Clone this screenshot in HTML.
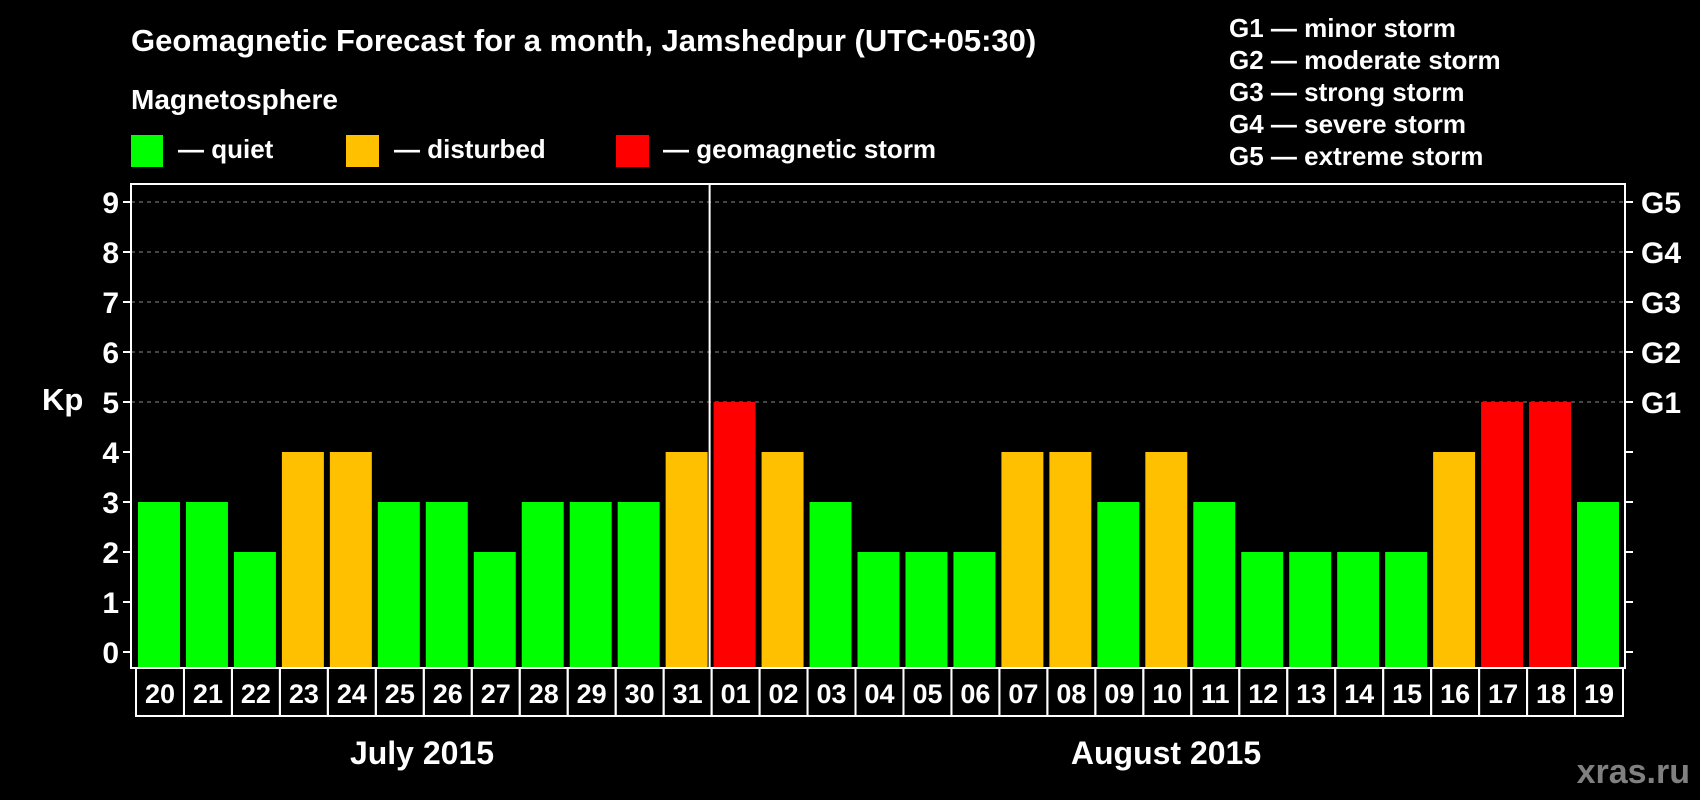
<!DOCTYPE html>
<html><head><meta charset="utf-8"><style>
html,body{margin:0;padding:0;background:#000;}
svg{display:block;font-family:"Liberation Sans",Arial,sans-serif;font-weight:bold;}
</style></head><body>
<svg id="chart" width="1700" height="800" viewBox="0 0 1700 800" xmlns="http://www.w3.org/2000/svg">
<rect width="1700" height="800" fill="#000"/>
<text x="131" y="51" fill="#fff" font-size="31">Geomagnetic Forecast for a month, Jamshedpur (UTC+05:30)</text>
<text x="131" y="109" fill="#fff" font-size="28">Magnetosphere</text>
<g><rect x="131" y="135" width="32" height="32" fill="#00ff00"/><text x="178" y="158" fill="#fff" font-size="26">— quiet</text></g>
<g><rect x="346" y="135" width="33" height="32" fill="#ffc000"/><text x="394" y="158" fill="#fff" font-size="26">— disturbed</text></g>
<g><rect x="616" y="135" width="33" height="32" fill="#ff0000"/><text x="663" y="158" fill="#fff" font-size="26">— geomagnetic storm</text></g>
<g fill="#fff" font-size="26">
<text x="1229" y="37">G1 — minor storm</text>
<text x="1229" y="69">G2 — moderate storm</text>
<text x="1229" y="101">G3 — strong storm</text>
<text x="1229" y="133">G4 — severe storm</text>
<text x="1229" y="165">G5 — extreme storm</text>
</g>
<text x="42" y="410" fill="#fff" font-size="31">Kp</text>
<g id="grid"></g><g id="bars"></g><g id="axes"></g>
<text x="422" y="764" fill="#fff" font-size="32" text-anchor="middle">July 2015</text>
<text x="1166" y="764" fill="#fff" font-size="32" text-anchor="middle">August 2015</text>
<text x="1690" y="783" fill="#808080" font-size="34" text-anchor="end">xras.ru</text>
</svg>
<script>
const days = ["20","21","22","23","24","25","26","27","28","29","30","31","01","02","03","04","05","06","07","08","09","10","11","12","13","14","15","16","17","18","19"];
const kpValues = [3,3,2,4,4,3,3,2,3,3,3,4,5,4,3,2,2,2,4,4,3,4,3,2,2,2,2,4,5,5,3];
const yTicks = [0,1,2,3,4,5,6,7,8,9];
const gLabels = ["","","","","","G1","G2","G3","G4","G5"];
const monthBreakIndex = 12;

const NS="http://www.w3.org/2000/svg";
const plotLeft=131,plotRight=1625,plotTop=184,plotBottom=668,x0=136,pitch=(1623-136)/days.length;
function yScale(v){return 652-v*50;}
function xScale(i){return x0+i*pitch;}
function mk(t,a,p){const e=document.createElementNS(NS,t);for(const k in a)e.setAttribute(k,a[k]);p.appendChild(e);return e;}
const grid=document.getElementById('grid'),bars=document.getElementById('bars'),axes=document.getElementById('axes');
yTicks.forEach((v,i)=>{
  if(v>=5){const l=mk('line',{x1:plotLeft,x2:plotRight,y1:yScale(v),y2:yScale(v),stroke:'#888','stroke-dasharray':'4,4','stroke-width':1},grid);
  
  }
  const t1=mk('line',{x1:plotLeft-8,x2:plotLeft,y1:yScale(v),y2:yScale(v),stroke:'#fff','stroke-width':2},axes);
  
  
  const t2=mk('line',{x1:plotRight,x2:plotRight+8,y1:yScale(v),y2:yScale(v),stroke:'#fff','stroke-width':2},axes);
  
  
  const tl=mk('text',{x:plotLeft-12,y:yScale(v)+11,fill:'#fff','font-size':30,'text-anchor':'end'},axes);tl.textContent=v;
  
  
  if(gLabels[i]){const g=mk('text',{x:plotRight+16,y:yScale(v)+11,fill:'#fff','font-size':30},axes);g.textContent=gLabels[i];
  
  }
});
kpValues.forEach((v,i)=>{
  const c=v>=5?'#ff0000':(v>=4?'#ffc000':'#00ff00');
  const r=mk('rect',{x:xScale(i)+2,y:yScale(v),width:pitch-6,height:plotBottom-yScale(v),fill:c},bars);
  
  
  const b=mk('rect',{x:xScale(i),y:plotBottom,width:pitch,height:48,fill:'none',stroke:'#fff','stroke-width':2},axes);
  
  
  const t=mk('text',{x:xScale(i)+pitch/2,y:plotBottom+35,fill:'#fff','font-size':27,'text-anchor':'middle'},axes);t.textContent=days[i];
  
  
});
const fr=mk('rect',{x:plotLeft,y:plotTop,width:plotRight-plotLeft,height:plotBottom-plotTop,fill:'none',stroke:'#fff','stroke-width':2},axes);


const dv=mk('line',{x1:xScale(monthBreakIndex)-2,x2:xScale(monthBreakIndex)-2,y1:plotTop,y2:plotBottom,stroke:'#fff','stroke-width':2},axes);


</script>
</body></html>
